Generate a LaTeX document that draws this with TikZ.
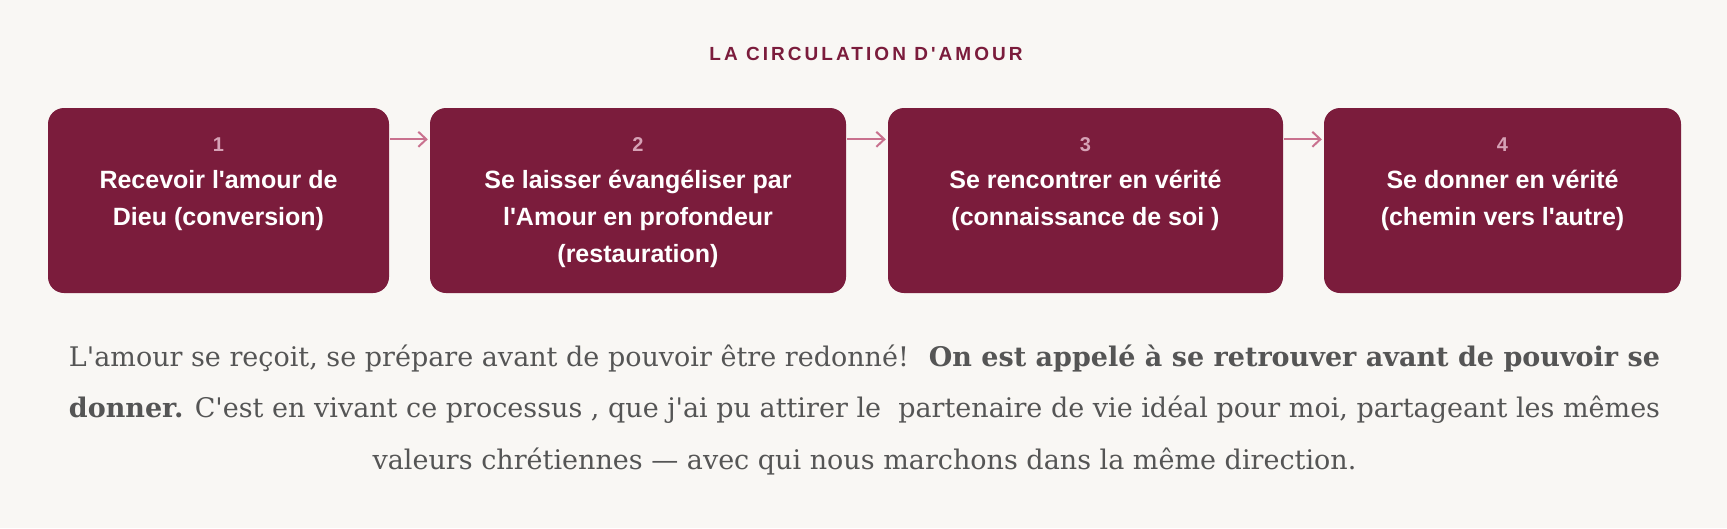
\documentclass[tikz,border=0pt]{standalone}
\usepackage{fontspec}
\setmainfont{DejaVu Serif}[Ligatures=TeXOff]
\newfontfamily\boxfont{Liberation Sans}[Ligatures=TeXOff]
\newfontfamily\titlefont{Liberation Sans}[Ligatures=TeXOff,LetterSpace=16]
\usetikzlibrary{arrows.meta}
\definecolor{bg}{RGB}{249,247,244}
\definecolor{wine}{RGB}{123,28,60}
\definecolor{numc}{RGB}{214,162,182}
\definecolor{arrc}{RGB}{201,113,142}
\definecolor{bodyc}{RGB}{85,85,85}
\begin{document}
\begin{tikzpicture}[x=1pt,y=-1pt,
  stepbox/.style={rectangle, rounded corners=16pt, fill=wine, draw=none, inner sep=0pt, minimum height=185pt},
  num/.style={anchor=base, text=numc, inner sep=0pt, font=\boxfont\bfseries\fontsize{20}{24}\selectfont},
  lbl/.style={anchor=base, text=white, inner sep=0pt, font=\boxfont\bfseries\fontsize{25}{30}\selectfont},
  titlestyle/.style={anchor=base, text=wine, inner sep=0pt, font=\titlefont\bfseries\fontsize{19}{23}\selectfont},
  bodyline/.style={anchor=base, text=bodyc, inner sep=0pt, font=\fontsize{27}{33}\selectfont},
  arr/.style={draw=arrc, line width=2pt, -{Straight Barb[length=8pt,width=15pt,line width=2pt]}, shorten >=2pt, shorten <=1pt}
]
\fill[bg] (0,0) rectangle (1727,528);
\useasboundingbox (0,0) rectangle (1727,528);

\node[titlestyle] (title) at (866,60) {LA CIRCULATION D'AMOUR};

\node[stepbox, minimum width=341pt] (b1) at (218.5,200.5) {};
\node[stepbox, minimum width=416pt] (b2) at (638,200.5) {};
\node[stepbox, minimum width=395pt] (b3) at (1085.5,200.5) {};
\node[stepbox, minimum width=357pt] (b4) at (1502.5,200.5) {};

\node[num] (n1) at (218.5,151.5) {1};
\node[lbl] (t1a) at (218.5,188.5) {Recevoir l'amour de};
\node[lbl] (t1b) at (218.5,225.5) {Dieu (conversion)};

\node[num] (n2) at (638,151.5) {2};
\node[lbl] (t2a) at (638,188.5) {Se laisser évangéliser par};
\node[lbl] (t2b) at (638,225.5) {l'Amour en profondeur};
\node[lbl] (t2c) at (638,262.5) {(restauration)};

\node[num] (n3) at (1085.5,151.5) {3};
\node[lbl] (t3a) at (1085.5,188.5) {Se rencontrer en vérité};
\node[lbl] (t3b) at (1085.5,225.5) {(connaissance de soi )};

\node[num] (n4) at (1502.5,151.5) {4};
\node[lbl] (t4a) at (1502.5,188.5) {Se donner en vérité};
\node[lbl] (t4b) at (1502.5,225.5) {(chemin vers l'autre)};

\draw[arr] ([yshift=-31.5pt]b1.north east) -- ([yshift=-31.5pt]b2.north west);
\draw[arr] ([yshift=-31.5pt]b2.north east) -- ([yshift=-31.5pt]b3.north west);
\draw[arr] ([yshift=-31.5pt]b3.north east) -- ([yshift=-31.5pt]b4.north west);

\node[bodyline] (p1) at (864.5,366) {L'amour se reçoit, se prépare avant de pouvoir être redonné!~ \textbf{On est appelé à se retrouver avant de pouvoir se}};
\node[bodyline] (p2) at (864.5,417.5) {\textbf{donner.} C'est en vivant ce processus , que j'ai pu attirer le~ partenaire de vie idéal pour moi, partageant les mêmes};
\node[bodyline] (p3) at (864.5,469) {valeurs chrétiennes — avec qui nous marchons dans la même direction.};
\end{tikzpicture}
\end{document}
